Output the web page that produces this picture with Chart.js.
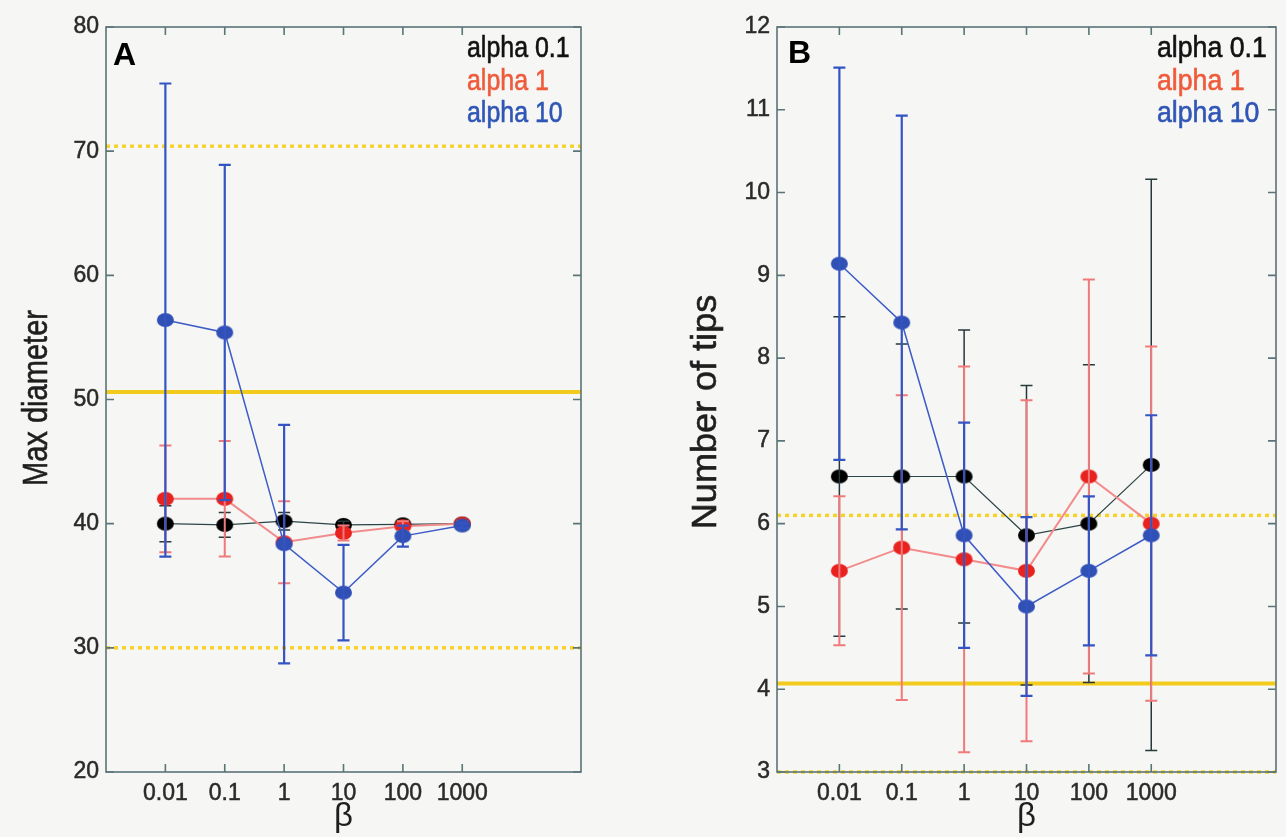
<!DOCTYPE html>
<html>
<head>
<meta charset="utf-8">
<title>Max diameter and number of tips vs beta</title>
<script src="https://cdn.jsdelivr.net/npm/chart.js@4.4.1/dist/chart.umd.min.js"></script>
<style>
  html, body { margin: 0; padding: 0; background: #f6f6f5; }
  #wrap { position: relative; width: 1286px; height: 837px; overflow: hidden; background: #f6f6f5; }
  #panelA { position: absolute; left: 0; top: 0; }
  #panelB { position: absolute; left: 660px; top: 0; }
</style>
</head>
<body>
<div id="wrap">
  <canvas id="panelA" width="600" height="837"></canvas>
  <canvas id="panelB" width="626" height="837"></canvas>
</div>
<script>
// beta values on the x axis (one category per position)
const betaLabels = ['0.01', '0.1', '1', '10', '100', '1000'];
const seriesNames = ['alpha 0.1', 'alpha 1', 'alpha 10'];

// Panel A: max diameter, mean and half-width of error bar
const diamAlpha01    = [40.0, 39.9, 40.2, 39.9, 39.95, 40.0];
const diamAlpha01Err = [1.45, 1.0, 0.7, 0.3, 0.2, 0.1];
const diamAlpha1     = [42.0, 42.0, 38.5, 39.25, 39.8, 40.0];
const diamAlpha1Err  = [4.3, 4.65, 3.3, 0.6, 0.4, 0.2];
const diamAlpha10    = [56.4, 55.4, 38.35, 34.45, 39.0, 39.85];
const diamAlpha10Err = [19.05, 13.5, 9.6, 3.85, 0.85, 0.2];
const diamSolidRefs  = [50.6];
const diamDottedRefs = [70.4, 30.0];

// Panel B: number of tips, mean and half-width of error bar
const tipsAlpha01    = [6.57, 6.57, 6.57, 5.86, 6.0, 6.71];
const tipsAlpha01Err = [1.93, 1.6, 1.77, 1.81, 1.92, 3.45];
const tipsAlpha1     = [5.43, 5.71, 5.57, 5.43, 6.57, 6.0];
const tipsAlpha1Err  = [0.9, 1.84, 2.33, 2.06, 2.38, 2.14];
const tipsAlpha10    = [9.14, 8.43, 5.86, 5.0, 5.43, 5.86];
const tipsAlpha10Err = [2.37, 2.5, 1.36, 1.08, 0.9, 1.45];
const tipsSolidRefs  = [4.07];
const tipsDottedRefs = [6.1, 3.0];

// series styling
const markerColors = ['#000000', '#e8231f', '#3050b6'];
const lineColors   = ['#2a4545', '#f28b8b', '#3d5cc6'];
const lineWidths   = [1.2, 2, 1.5];
const errColors    = ['#27393a', '#f07a7a', '#3354c2'];
const errWidths    = [1.5, 2, 2.2];
const legendColors = ['#111111', '#ef5a3a', '#2f56b6'];
const drawOrder    = [2, 1, 0];   // black underneath, blue on top

const SANS = "'Liberation Sans', Arial, Helvetica, sans-serif";
const FRAME = '#5b7478';

// slightly flattened round marker, drawn once per colour
function makeDot(color, w, h) {
  const c = document.createElement('canvas');
  c.width = w + 2; c.height = h + 2;
  const g = c.getContext('2d');
  g.fillStyle = color;
  g.beginPath();
  g.ellipse(c.width / 2, c.height / 2, w / 2, h / 2, 0, 0, Math.PI * 2);
  g.fill();
  return c;
}

// text squeezed or stretched along its own direction, lightly emboldened
function squeezedText(ctx, text, x, y, sx, rot) {
  ctx.save();
  ctx.translate(x, y);
  if (rot) ctx.rotate(rot);
  ctx.scale(sx, 1);
  ctx.strokeStyle = ctx.fillStyle;
  ctx.lineWidth = 0.6;
  ctx.strokeText(text, 0, 0);
  ctx.fillText(text, 0, 0);
  ctx.restore();
}

const panelDecor = {
  id: 'panelDecor',
  beforeDatasetsDraw(chart, args, o) {
    const { ctx, chartArea: a } = chart;
    const y = chart.scales.y;
    ctx.save();
    ctx.lineCap = 'butt';
    o.solidRefs.forEach(v => {
      const py = y.getPixelForValue(v);
      ctx.strokeStyle = '#f2cb1c';
      ctx.lineWidth = 4;
      ctx.setLineDash([]);
      ctx.beginPath(); ctx.moveTo(a.left, py); ctx.lineTo(a.right, py); ctx.stroke();
    });
    o.dottedRefs.forEach(v => {
      const py = y.getPixelForValue(v);
      ctx.strokeStyle = '#f6d32a';
      ctx.lineWidth = 3.5;
      ctx.setLineDash([4, 4]);
      ctx.beginPath(); ctx.moveTo(a.left, py); ctx.lineTo(a.right, py); ctx.stroke();
    });
    ctx.restore();
  },
  afterDatasetDraw(chart, args, o) {
    const i = args.index;
    const errs = o.errors[i];
    const ds = chart.data.datasets[i];
    const { ctx } = chart;
    const x = chart.scales.x, y = chart.scales.y;
    ctx.save();
    ctx.strokeStyle = errColors[i];
    ctx.lineWidth = errWidths[i];
    ctx.setLineDash([]);
    ds.data.forEach((p, k) => {
      const px = x.getPixelForValue(p.x);
      const top = y.getPixelForValue(p.y + errs[k]);
      const bot = y.getPixelForValue(p.y - errs[k]);
      ctx.beginPath();
      ctx.moveTo(px, top); ctx.lineTo(px, bot);
      ctx.moveTo(px - 6, top); ctx.lineTo(px + 6, top);
      ctx.moveTo(px - 6, bot); ctx.lineTo(px + 6, bot);
      ctx.stroke();
    });
    ctx.restore();
  },
  afterDraw(chart, args, o) {
    const { ctx, chartArea: a } = chart;
    const x = chart.scales.x, y = chart.scales.y;
    ctx.save();
    // frame with inward tick marks
    ctx.strokeStyle = FRAME;
    ctx.lineWidth = 1.6;
    ctx.setLineDash([]);
    ctx.strokeRect(a.left, a.top, a.right - a.left, a.bottom - a.top);
    ctx.beginPath();
    y.ticks.forEach(t => {
      const py = y.getPixelForValue(t.value);
      ctx.moveTo(a.left, py); ctx.lineTo(a.left + 8, py);
      ctx.moveTo(a.right, py); ctx.lineTo(a.right - 8, py);
    });
    x.ticks.forEach(t => {
      const px = x.getPixelForValue(t.value);
      ctx.moveTo(px, a.top); ctx.lineTo(px, a.top + 8);
      ctx.moveTo(px, a.bottom); ctx.lineTo(px, a.bottom - 8);
    });
    ctx.stroke();
    // y axis title
    ctx.fillStyle = '#1e1e1e';
    ctx.font = o.titleSize + 'px ' + SANS;
    ctx.textAlign = 'center';
    ctx.textBaseline = 'middle';
    squeezedText(ctx, o.title, o.titleX, o.titleY, o.titleSqueeze, -Math.PI / 2);
    // panel letter
    ctx.fillStyle = '#000';
    ctx.font = 'bold 32px ' + SANS;
    ctx.textAlign = 'left';
    ctx.textBaseline = 'alphabetic';
    ctx.fillText(o.letter, a.left + o.letterDx, a.top + o.letterDy);
    // series key
    ctx.font = '29px ' + SANS;
    seriesNames.forEach((name, k) => {
      ctx.fillStyle = legendColors[k];
      squeezedText(ctx, name, a.right - o.keyDx, a.top + 30 + k * 32.5, o.keySqueeze, 0);
    });
    ctx.restore();
  }
};

function pts(vals) {
  return vals.map((v, i) => ({ x: i, y: v }));
}

function makePanel(canvasId, cfg) {
  const means = [cfg.s0, cfg.s1, cfg.s2];
  const datasets = means.map((vals, k) => {
    const dot = makeDot(markerColors[k], 17, 14);
    return {
      label: seriesNames[k],
      data: pts(vals),
      borderColor: lineColors[k],
      borderWidth: lineWidths[k],
      backgroundColor: markerColors[k],
      pointStyle: dot,
      pointRadius: 8,
      pointHoverRadius: 8,
      tension: 0,
      order: drawOrder[k]
    };
  });
  return new Chart(document.getElementById(canvasId), {
    type: 'line',
    data: { datasets },
    plugins: [panelDecor],
    options: {
      responsive: false,
      maintainAspectRatio: false,
      devicePixelRatio: 1,
      animation: false,
      layout: { padding: { top: 27, right: cfg.padRight, left: 0, bottom: 0 } },
      plugins: {
        legend: { display: false },
        tooltip: { enabled: false },
        panelDecor: {
          errors: cfg.errs,
          solidRefs: cfg.solidRefs,
          dottedRefs: cfg.dottedRefs,
          title: cfg.yTitle,
          titleSize: cfg.yTitleSize,
          titleX: cfg.yTitleX,
          titleY: cfg.yTitleY,
          titleSqueeze: cfg.yTitleSqueeze,
          letter: cfg.letter,
          letterDx: cfg.letterDx,
          letterDy: cfg.letterDy,
          keyDx: cfg.keyDx,
          keySqueeze: cfg.keySqueeze
        }
      },
      scales: {
        x: {
          type: 'linear',
          min: -1,
          max: 7,
          afterBuildTicks: s => { s.ticks = betaLabels.map((_, i) => ({ value: i })); },
          afterFit: s => { s.height = 65; },
          grid: { display: false, drawTicks: false },
          border: { display: false },
          ticks: {
            padding: 8,
            autoSkip: false,
            maxRotation: 0,
            color: '#2a2a2a',
            textStrokeColor: '#2a2a2a',
            textStrokeWidth: 0.5,
            font: { family: SANS, size: 23 },
            callback: v => betaLabels[v] ?? ''
          },
          title: {
            display: true,
            text: 'β',
            color: '#1e1e1e',
            font: { family: SANS, size: 33 },
            padding: { top: 0, bottom: 0 }
          }
        },
        y: {
          type: 'linear',
          min: cfg.yMin,
          max: cfg.yMax,
          afterFit: s => { s.width = cfg.yWidth; },
          grid: { display: false, drawTicks: false },
          border: { display: false },
          ticks: {
            stepSize: cfg.yStep,
            padding: 7,
            color: '#2a2a2a',
            textStrokeColor: '#2a2a2a',
            textStrokeWidth: 0.5,
            font: { family: SANS, size: 23 }
          }
        }
      }
    }
  });
}

makePanel('panelA', {
  s0: diamAlpha01, s1: diamAlpha1, s2: diamAlpha10,
  errs: [diamAlpha01Err, diamAlpha1Err, diamAlpha10Err],
  solidRefs: diamSolidRefs, dottedRefs: diamDottedRefs,
  yMin: 20, yMax: 80, yStep: 10, yWidth: 106, padRight: 19,
  yTitle: 'Max diameter', yTitleSize: 35, yTitleX: 37, yTitleY: 398, yTitleSqueeze: 0.83,
  letter: 'A', letterDx: 7, letterDy: 38, keyDx: 114, keySqueeze: 0.86
});

makePanel('panelB', {
  s0: tipsAlpha01, s1: tipsAlpha1, s2: tipsAlpha10,
  errs: [tipsAlpha01Err, tipsAlpha1Err, tipsAlpha10Err],
  solidRefs: tipsSolidRefs, dottedRefs: tipsDottedRefs,
  yMin: 3, yMax: 12, yStep: 1, yWidth: 117, padRight: 2,
  yTitle: 'Number of tips', yTitleSize: 35, yTitleX: 46, yTitleY: 412, yTitleSqueeze: 1.03,
  letter: 'B', letterDx: 11, letterDy: 36, keyDx: 119, keySqueeze: 0.92
});
</script>
</body>
</html>
